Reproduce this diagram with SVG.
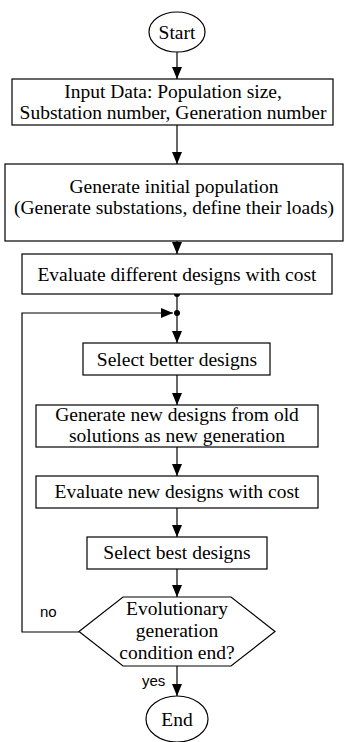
<svg xmlns="http://www.w3.org/2000/svg" width="345" height="742" viewBox="0 0 345 742">
<style>
.n{fill:#fff;stroke:#000;stroke-width:1.2}
.t{font-family:"Liberation Serif","Times New Roman",serif;font-size:19.5px;fill:#000;text-anchor:middle}
.s{font-family:"Liberation Sans",Arial,sans-serif;font-size:15px;fill:#000}
.c{fill:none;stroke:#000;stroke-width:1.2}
</style>
<defs>
<marker id="a" viewBox="0 0 12 10" refX="12" refY="5" markerWidth="12" markerHeight="10" markerUnits="userSpaceOnUse" orient="auto">
<path d="M0,0 L12,5 L0,10 Z" fill="#000"/>
</marker>
</defs>
<rect width="345" height="742" fill="#fff"/>
<g id="connectors">
<line class="c" x1="177" y1="52" x2="177" y2="79" marker-end="url(#a)"/>
<line class="c" x1="177" y1="125" x2="177" y2="164" marker-end="url(#a)"/>
<line class="c" x1="177" y1="241" x2="177" y2="254" marker-end="url(#a)"/>
<line class="c" x1="177" y1="294" x2="177" y2="343" marker-end="url(#a)"/>
<circle cx="177" cy="294" r="3" fill="#000"/>
<circle cx="177" cy="313" r="3" fill="#000"/>
<polyline class="c" points="79,632 22,632 22,313 173,313" marker-end="url(#a)"/>
<line class="c" x1="177" y1="375" x2="177" y2="405" marker-end="url(#a)"/>
<line class="c" x1="177" y1="447" x2="177" y2="476" marker-end="url(#a)"/>
<line class="c" x1="177" y1="508" x2="177" y2="537" marker-end="url(#a)"/>
<line class="c" x1="177" y1="569" x2="177" y2="597" marker-end="url(#a)"/>
<line class="c" x1="177" y1="666" x2="177" y2="696" marker-end="url(#a)"/>
<text class="s" x="40" y="617">no</text>
<text class="s" x="142" y="686">yes</text>
</g>
<g id="start">
<ellipse class="n" cx="177" cy="32" rx="28" ry="20"/>
<text class="t" x="177" y="39">Start</text>
</g>
<g id="input">
<rect class="n" x="12" y="79" width="321" height="46"/>
<text class="t" x="173" y="98">Input Data: Population size,</text>
<text class="t" x="173" y="119">Substation number, Generation number</text>
</g>
<g id="init">
<rect class="n" x="5" y="164" width="338" height="77"/>
<text class="t" x="174" y="193">Generate initial population</text>
<text class="t" x="174" y="214">(Generate substations, define their loads)</text>
</g>
<g id="eval1">
<rect class="n" x="22" y="254" width="310" height="40"/>
<text class="t" x="177" y="281">Evaluate different designs with cost</text>
</g>
<g id="selbetter">
<rect class="n" x="83" y="343" width="187" height="32"/>
<text class="t" x="177" y="366">Select better designs</text>
</g>
<g id="gennew">
<rect class="n" x="36" y="405" width="282" height="42"/>
<text class="t" x="177" y="421">Generate new designs from old</text>
<text class="t" x="177" y="442">solutions as new generation</text>
</g>
<g id="evalnew">
<rect class="n" x="36" y="476" width="282" height="32"/>
<text class="t" x="177" y="498">Evaluate new designs with cost</text>
</g>
<g id="selbest">
<rect class="n" x="87" y="537" width="180" height="32"/>
<text class="t" x="177" y="559">Select best designs</text>
</g>
<g id="decision">
<polygon class="n" points="123,597 231,597 275,631.5 231,666 123,666 79,631.5"/>
<text class="t" x="177" y="615">Evolutionary</text>
<text class="t" x="177" y="637">generation</text>
<text class="t" x="177" y="659">condition end?</text>
</g>
<g id="end">
<ellipse class="n" cx="177" cy="719" rx="31" ry="23"/>
<text class="t" x="177" y="726">End</text>
</g>
</svg>
